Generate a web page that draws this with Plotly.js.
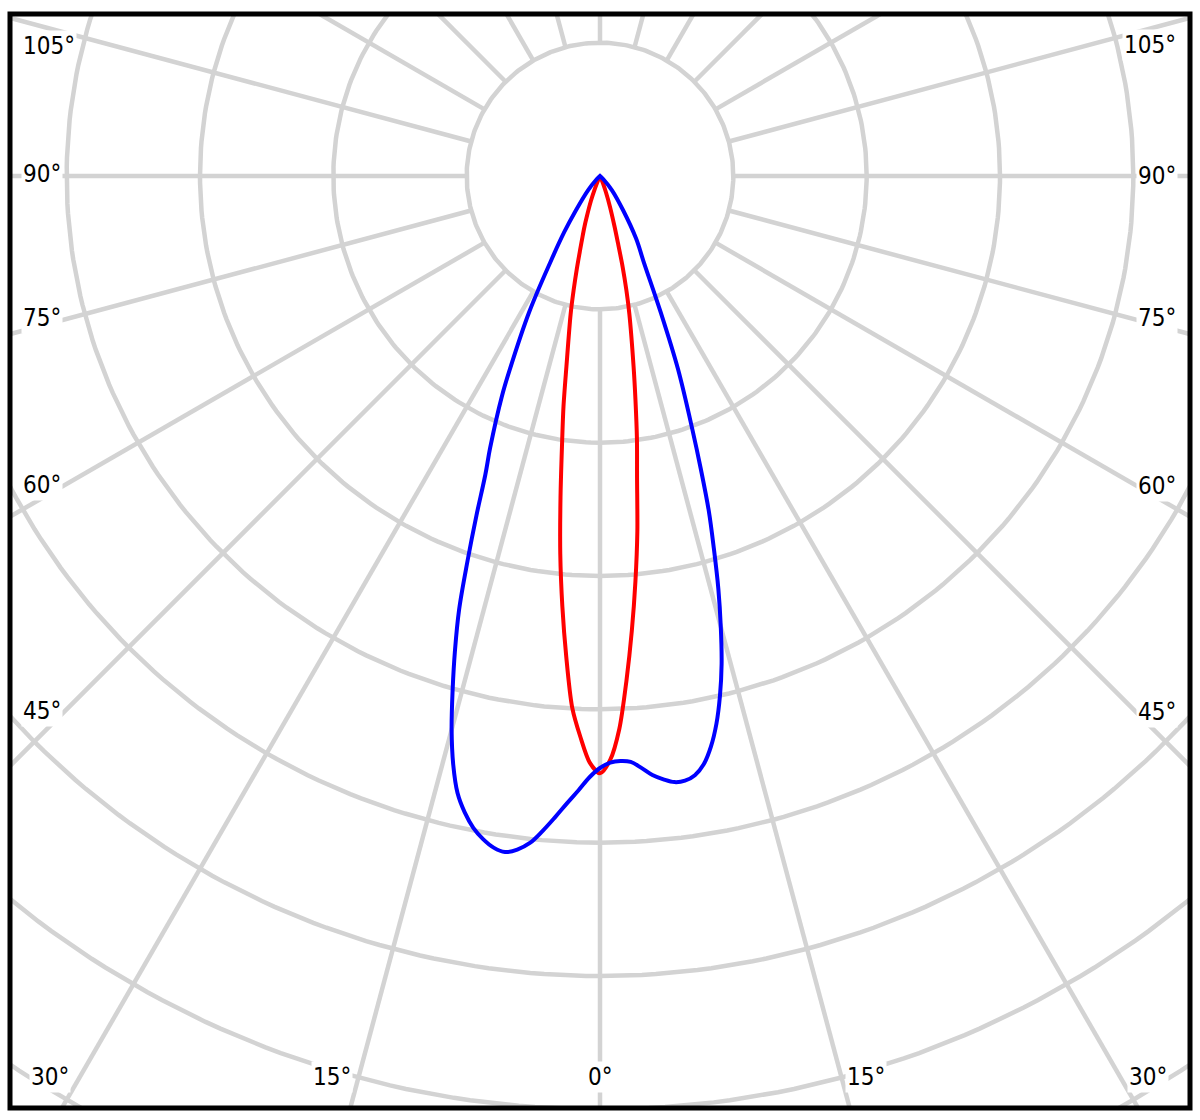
<!DOCTYPE html>
<html>
<head>
<meta charset="utf-8">
<script src="https://cdn.plot.ly/plotly-3.0.1.min.js"></script>
<style>html,body{margin:0;padding:0;background:#fff;}#chart{width:1200px;height:1120px;}</style>
</head>
<body>
<div id="chart"></div>
<script>
// Luminous intensity curves (gamma in degrees from nadir; negative = left half-plane)
const redGamma = [-90,-30,-25,-22,-20,-18,-17,-16,-15,-14,-13,-12,-10,-9,-8,-7,-6,-5,-4,-3,-2,-1,0,1,2,3,4,5,6,7,8,9,10,12,13,14,15,16,18,20,22,25,30,90];
const redI     = [0,0,3,10,20,32,40,48,58,72,88,106,145,175,205,243,285,324,362,399,421,440,448,438,415,379,342,305,268,228,199,170,145,106,88,70,52,40,24,13,6,2,0,0];

const blueGamma = [-90,-50,-45,-40,-35,-32.5,-30,-27.5,-25,-24,-22,-21,-20,-19,-18,-17,-16,-15,-14,-13,-12,-11,-10,-9,-8,-7,-6,-5,-4,-3,-2,-1,0,1,2,3,4,5,6,7,8,9,10,11,12,13,14,15,16,17,18,19,20,22,24,27,30,34,40,45,50,90];
const blueI     = [0,0,4,14,32,50,74,115,160,181,220,240,271,305,342,372,401,430,455,475,488,498,505,510,512,509,503,493,482,471,461,451,444,440,439,440,445,451,455,458,458,455,448,436,420,400,377,350,322,292,264,232,203,156,112,72,54,31,14,4,0,0];

// Grid definition
const gridRadii = [100,200,300,400,500,600,700,800];
const spokeAngles = [0,15,30,45,60,75,90,105,120,135,150,165,180,195,210,225,240,255,270,285,300,315,330,345];

// Angle labels
const labelTexts = ["105°","90°","75°","60°","45°","105°","90°","75°","60°","45°","30°","15°","0°","15°","30°"];

const PX = 4/3; // pixels per intensity unit
const CX = 600, CY = 176; // pole position in pixels
const plotL = 10, plotR = 1190, plotT = 14, plotB = 1108;

function toXY(gArr, iArr){
  const x = [], y = [];
  for (let k = 0; k < gArr.length; k++){
    const a = gArr[k]*Math.PI/180;
    x.push(iArr[k]*Math.sin(a));
    y.push(-iArr[k]*Math.cos(a));
  }
  return {x, y};
}

const gridColor = '#d3d3d3';
const traces = [];

// spokes
{
  const x = [], y = [];
  spokeAngles.forEach(g => {
    const a = g*Math.PI/180;
    x.push(100*Math.sin(a), 1100*Math.sin(a), null);
    y.push(-100*Math.cos(a), -1100*Math.cos(a), null);
  });
  traces.push({type:'scatter', mode:'lines', x, y, line:{color:gridColor, width:4.5}, hoverinfo:'skip', showlegend:false});
}
// circles
{
  const x = [], y = [];
  gridRadii.forEach(r => {
    for (let d = 0; d <= 360; d += 1){
      const a = d*Math.PI/180;
      x.push(r*Math.sin(a)); y.push(-r*Math.cos(a));
    }
    x.push(null); y.push(null);
  });
  traces.push({type:'scatter', mode:'lines', x, y, line:{color:gridColor, width:4.5}, hoverinfo:'skip', showlegend:false});
}

const red = toXY(redGamma, redI);
traces.push({type:'scatter', mode:'lines', x:red.x, y:red.y, line:{color:'#ff0000', width:4, shape:'spline', smoothing:0.8}, hoverinfo:'skip', showlegend:false});
const blue = toXY(blueGamma, blueI);
traces.push({type:'scatter', mode:'lines', x:blue.x, y:blue.y, line:{color:'#0000ff', width:4, shape:'spline', smoothing:1.0}, hoverinfo:'skip', showlegend:false});

// label placement (pixels)
const labelPos = [
  [21,46,'left'],[21,174,'left'],[21,318,'left'],[21,485,'left'],[21,711,'left'],
  [1178,45,'right'],[1178,176,'right'],[1178,318,'right'],[1178,486,'right'],[1178,712,'right'],
  [50,1077,'center'],[332,1077,'center'],[600,1077,'center'],[866,1077,'center'],[1148,1077,'center']
];
const annotations = labelTexts.map((t, k) => ({
  text: t,
  xref: 'paper', yref: 'paper',
  x: (labelPos[k][0]-plotL)/(plotR-plotL),
  y: (plotB-labelPos[k][1])/(plotB-plotT),
  xanchor: labelPos[k][2], yanchor: 'middle',
  showarrow: false,
  bgcolor: '#ffffff',
  borderpad: 1,
  font: {family: 'DejaVu Sans Condensed, DejaVu Sans, Verdana, sans-serif', size: 24, color: '#000000'}
}));

const layout = {
  width: 1200, height: 1120,
  margin: {l: plotL, r: 1200-plotR, t: plotT, b: 1120-plotB, pad: 0},
  paper_bgcolor: '#ffffff', plot_bgcolor: '#ffffff',
  showlegend: false,
  xaxis: {range: [(plotL-CX)/PX, (plotR-CX)/PX], visible: false, fixedrange: true},
  yaxis: {range: [(CY-plotB)/PX, (CY-plotT)/PX], visible: false, fixedrange: true},
  annotations,
  shapes: [{type:'rect', xref:'paper', yref:'paper', x0:0, x1:1, y0:0, y1:1, line:{color:'#000000', width:5}, layer:'above'}]
};

Plotly.newPlot('chart', traces, layout, {displayModeBar:false, staticPlot:true});
</script>
</body>
</html>
